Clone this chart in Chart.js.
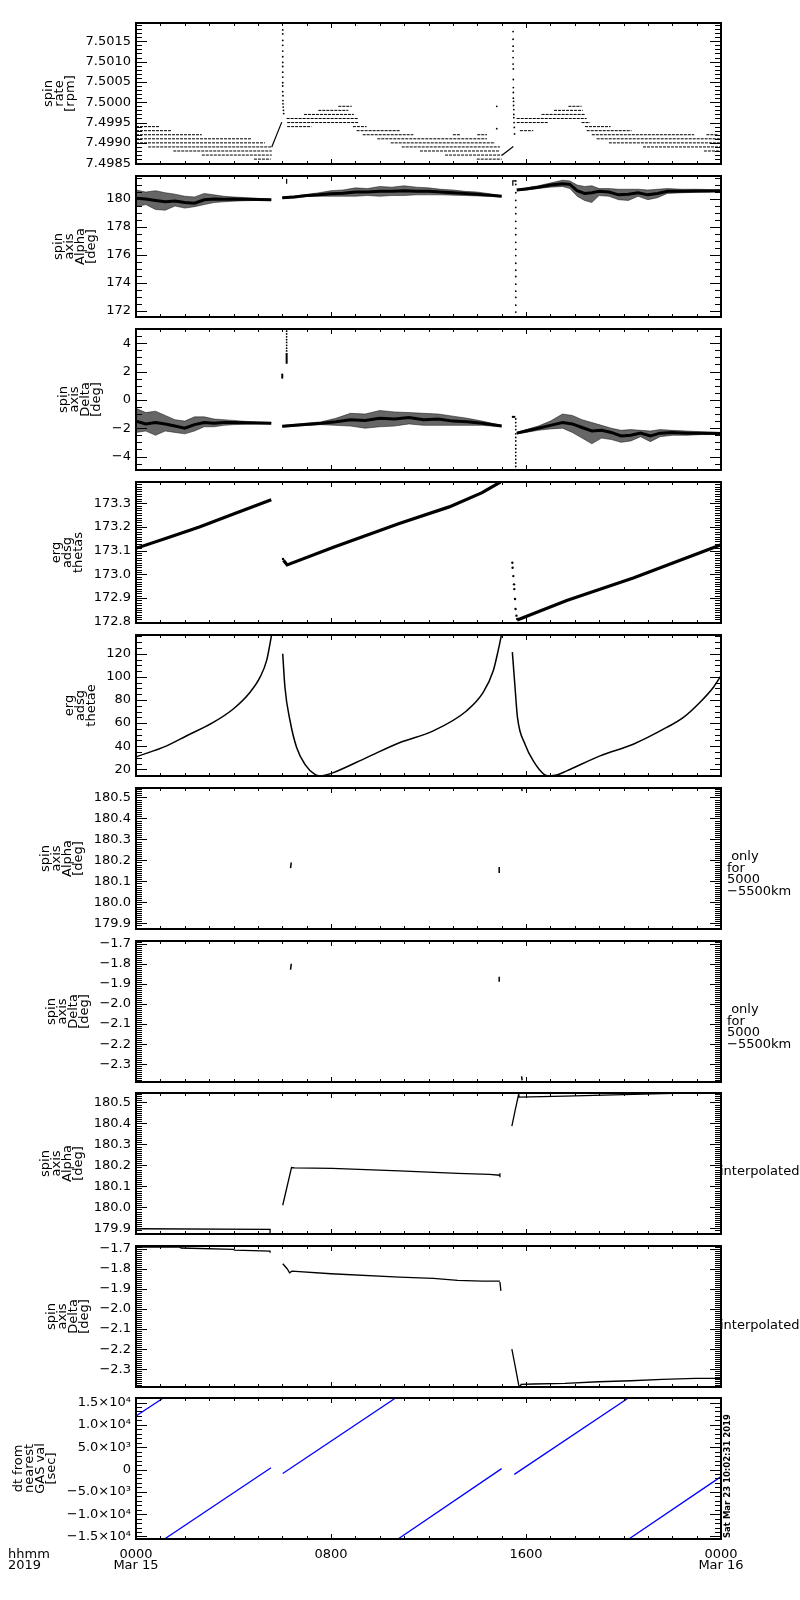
<!DOCTYPE html>
<html>
<head>
<meta charset="utf-8">
<script src="https://cdn.jsdelivr.net/npm/chart.js@4.4.1/dist/chart.umd.min.js"></script>
<style>
  body { margin: 0; background: #fff; }
  #wrap { position: relative; width: 800px; height: 1600px; }
  #wrap canvas { position: absolute; left: 0; }
</style>
</head>
<body>
<div id="wrap"></div>
<script>
// ---- time axis (hours since 0000 Mar 15) ----
const hourTicks = [0, 8, 16, 24];
const hourText = [['0000', 'Mar 15'], '0800', '1600', ['0000', 'Mar 16']];

// ---- panel 1: spin rate [rpm] ----
const rateTicks = [7.4985, 7.4990, 7.4995, 7.5000, 7.5005, 7.5010, 7.5015];
const rateTickText = ['7.4985', '7.4990', '7.4995', '7.5000', '7.5005', '7.5010', '7.5015'];
const rateLevel = [7.4994, 7.4993, 7.4992, 7.4991, 7.4990, 7.4989, 7.4988, 7.4987, 7.4986,
  7.4999, 7.4998, 7.4997, 7.4996, 7.4995, 7.4994, 7.4994, 7.4993, 7.4992, 7.4992, 7.4992,
  7.4991, 7.4990, 7.4989, 7.4988, 7.4987, 7.4986,
  7.4999, 7.4998, 7.4997, 7.4996, 7.4995, 7.4995, 7.4993, 7.4994, 7.4993, 7.4992, 7.4992,
  7.4991, 7.4990, 7.4989, 7.4988];
const rateFrom = [0, 0, 0, 0, 0, 0.5, 1.53, 2.7, 4.84,
  8.3, 7.48, 6.89, 6.18, 6.2, 6.2, 8.9, 9.05, 9.3, 13.0, 14.0,
  9.9, 10.45, 10.9, 11.65, 12.68, 13.98,
  17.74, 17.15, 16.64, 15.62, 15.62, 18.28, 15.75, 18.42, 18.49, 18.7, 23.4,
  18.9, 19.4, 20.8, 23.3];
const rateTo = [0.95, 1.46, 2.7, 4.75, 5.29, 5.57, 5.57, 5.57, 5.53,
  8.85, 8.71, 8.94, 9.12, 9.15, 7.2, 9.46, 10.83, 11.38, 13.3, 14.4,
  14.4, 14.73, 14.93, 14.93, 15.0, 15.0,
  18.28, 18.33, 18.42, 18.49, 16.92, 18.63, 16.3, 19.47, 20.33, 22.9, 23.9,
  24, 24, 24, 24];
const rampTime = [5.57, 5.98, null, 15.0, 15.48];
const rampRate = [7.4989, 7.49951, null, 7.49869, 7.49891];
const rateSpikeTime = [6.02, 6.02, 6.02, 6.02, 6.02, 6.02, 6.02, 6.02, 6.02, 6.02, 6.02, 6.02, 6.02,
  6.03, 6.03, 6.03, 6.04, 6.05, 6.06,
  15.47, 15.47, 15.47, 15.47, 15.47, 15.47, 15.48, 15.48, 15.48, 15.48, 15.48,
  15.49, 15.49, 15.5, 15.5, 15.5, 15.51, 15.52, 15.53, 14.8, 14.8];
const rateSpikeRate = [7.50178, 7.50168, 7.50152, 7.50140, 7.50126, 7.50112, 7.50098, 7.50088,
  7.50074, 7.50062, 7.50048, 7.50040, 7.50026, 7.50016, 7.50004, 7.49996, 7.49988, 7.49980, 7.49972,
  7.50174, 7.50155, 7.50138, 7.50126, 7.50110, 7.50094, 7.50082, 7.50056, 7.50036, 7.50024,
  7.50010, 7.50002, 7.49992, 7.49982, 7.49970, 7.49962, 7.49950, 7.49938, 7.49922, 7.49990, 7.49935];

// ---- panel 2: spin axis alpha [deg] ----
const alphaTicks = [172, 174, 176, 178, 180];
const alphaTickText = ['172', '174', '176', '178', '180'];
const alphaTime = [0, 0.4, 0.8, 1.2, 1.6, 2.0, 2.4, 2.8, 3.2, 3.6, 4.0, 4.5, 5.0, 5.55, null,
  6.0, 6.5, 7.0, 7.5, 8.0, 8.5, 9.0, 9.5, 10.0, 10.5, 11.0, 11.5, 12.0, 12.5, 13.0, 13.5, 14.0, 14.5, 15.0, null,
  15.62, 16.0, 16.5, 17.0, 17.5, 17.8, 18.1, 18.4, 18.7, 19.0, 19.4, 19.8, 20.2, 20.6, 21.0, 21.4, 21.8, 22.4, 23.0, 23.5, 24.0];
const alphaMid = [180.05, 180.0, 179.9, 179.8, 179.85, 179.75, 179.7, 179.95, 180.0, 179.98, 180.0, 179.98, 179.97, 179.94, null,
  180.1, 180.15, 180.25, 180.3, 180.38, 180.42, 180.5, 180.5, 180.55, 180.55, 180.6, 180.55, 180.55, 180.5, 180.45, 180.4, 180.35, 180.28, 180.2, null,
  180.65, 180.72, 180.85, 181.0, 181.1, 181.05, 180.6, 180.4, 180.45, 180.55, 180.5, 180.3, 180.35, 180.45, 180.3, 180.4, 180.55, 180.55, 180.58, 180.58, 180.6];
const alphaHi = [180.65, 180.5, 180.6, 180.45, 180.35, 180.2, 180.15, 180.4, 180.3, 180.2, 180.15, 180.1, 180.05, 179.98, null,
  180.15, 180.22, 180.32, 180.45, 180.6, 180.65, 180.8, 180.75, 180.9, 180.85, 180.95, 180.85, 180.8, 180.7, 180.65, 180.55, 180.5, 180.38, 180.25, null,
  180.7, 180.8, 180.95, 181.15, 181.35, 181.3, 181.0, 180.9, 180.95, 180.75, 180.75, 180.7, 180.7, 180.7, 180.65, 180.7, 180.75, 180.7, 180.7, 180.68, 180.65];
const alphaLo = [179.45, 179.6, 179.25, 179.2, 179.5, 179.35, 179.45, 179.6, 179.75, 179.8, 179.85, 179.88, 179.9, 179.9, null,
  180.05, 180.1, 180.18, 180.2, 180.2, 180.2, 180.2, 180.25, 180.2, 180.25, 180.25, 180.3, 180.3, 180.3, 180.28, 180.25, 180.22, 180.18, 180.15, null,
  180.6, 180.65, 180.75, 180.85, 180.9, 180.75, 180.2, 179.9, 179.75, 180.25, 180.2, 179.95, 179.9, 180.2, 179.95, 180.1, 180.4, 180.45, 180.48, 180.5, 180.55];
const alphaDropTime = [15.58, 15.58, 15.58, 15.58, 15.58, 15.58, 15.58, 15.58, 15.58, 15.58,
  15.58, 15.58, 15.58, 15.58, 15.58, 15.58, 15.58, 15.58, 15.58, 15.58];
const alphaDropVal = [181.3, 181.05, 180.45, 179.9, 179.4, 178.95, 178.4, 177.9, 177.45, 176.9,
  176.4, 175.95, 175.4, 174.9, 174.45, 173.9, 173.4, 172.95, 172.4, 171.9];
const alphaMarkTime = [15.46, 15.46, 15.56, null, 6.18, 6.18];
const alphaMarkVal = [180.95, 181.3, 181.3, null, 181.1, 181.45];

// ---- panel 3: spin axis delta [deg] ----
const deltaTicks = [-4, -2, 0, 2, 4];
const deltaTickText = ['\u22124', '\u22122', '0', '2', '4'];
const deltaTime = [0, 0.4, 0.8, 1.2, 1.6, 2.0, 2.4, 2.8, 3.2, 3.6, 4.0, 4.5, 5.0, 5.55, null,
  6.0, 6.8, 7.6, 8.2, 8.8, 9.4, 10.0, 10.6, 11.2, 11.8, 12.4, 13.0, 13.6, 14.2, 15.0, null,
  15.62, 16.0, 16.5, 17.0, 17.5, 17.9, 18.3, 18.7, 19.1, 19.5, 19.9, 20.3, 20.7, 21.1, 21.5, 22.0, 22.6, 23.2, 24.0];
const deltaMid = [-1.5, -1.7, -1.6, -1.7, -1.85, -2.0, -1.75, -1.6, -1.65, -1.6, -1.6, -1.62, -1.63, -1.65, null,
  -1.87, -1.75, -1.65, -1.55, -1.4, -1.45, -1.3, -1.35, -1.25, -1.4, -1.35, -1.5, -1.55, -1.65, -1.85, null,
  -2.35, -2.2, -2.0, -1.8, -1.6, -1.7, -1.95, -2.2, -2.15, -2.3, -2.55, -2.5, -2.35, -2.55, -2.35, -2.3, -2.35, -2.35, -2.38];
const deltaHi = [-0.6, -0.9, -0.8, -1.1, -1.4, -1.5, -1.2, -1.2, -1.35, -1.4, -1.45, -1.52, -1.56, -1.6, null,
  -1.82, -1.68, -1.55, -1.3, -0.95, -1.0, -0.75, -0.85, -0.9, -0.95, -1.0, -1.15, -1.3, -1.5, -1.8, null,
  -2.3, -2.1, -1.85, -1.5, -1.0, -1.1, -1.4, -1.6, -1.8, -2.0, -2.15, -2.1, -2.15, -2.2, -2.1, -2.15, -2.2, -2.25, -2.3];
const deltaLo = [-2.3, -2.2, -2.5, -2.2, -2.3, -2.4, -2.2, -1.9, -1.9, -1.8, -1.75, -1.72, -1.7, -1.7, null,
  -1.92, -1.82, -1.75, -1.8, -1.85, -2.0, -1.9, -1.85, -1.7, -1.8, -1.8, -1.8, -1.8, -1.8, -1.9, null,
  -2.4, -2.3, -2.15, -2.05, -2.0, -2.3, -2.7, -3.1, -2.7, -2.8, -3.0, -2.9, -2.6, -2.95, -2.6, -2.5, -2.5, -2.45, -2.45];
const deltaDropTime = [6.18, 6.18, 6.18, 6.18, 6.18, 6.18, 6.18, 6.18,
  15.58, 15.58, 15.58, 15.58, 15.58, 15.58, 15.58, 15.58, 15.58, 15.58, 15.58, 15.58, 15.58, 15.58, 15.58];
const deltaDropVal = [4.85, 4.65, 4.45, 4.25, 4.05, 3.85, 3.65, 3.45,
  -1.35, -1.6, -1.85, -2.1, -2.4, -2.65, -2.9, -3.2, -3.45, -3.7, -3.95, -4.2, -4.45, -4.7, -4.92];
const deltaMarkTime = [6.18, 6.18, null, 6.0, 6.0, null, 15.42, 15.56];
const deltaMarkVal = [3.3, 2.55, null, 1.5, 1.85, null, -1.2, -1.2];

// ---- panel 4: erg adsg thetas ----
const thetasTicks = [172.8, 172.9, 173.0, 173.1, 173.2, 173.3];
const thetasTickText = ['172.8', '172.9', '173.0', '173.1', '173.2', '173.3'];
const thetasTime = [0, 1.3, 2.6, 4.0, 5.55, null,
  6.05, 6.2, 8.1, 10.8, 12.85, 14.2, 14.95, null,
  15.64, 17.67, 20.4, 24];
const thetasVal = [173.11, 173.155, 173.2, 173.255, 173.315, null,
  173.06, 173.04, 173.115, 173.215, 173.285, 173.345, 173.39, null,
  172.808, 172.89, 172.985, 173.125];
const thetasDropTime = [6.03, 15.44, 15.45, 15.48, 15.51, 15.52, 15.55, 15.57, 15.61, 15.64];
const thetasDropVal = [173.065, 173.049, 173.028, 172.993, 172.958, 172.938, 172.896, 172.854, 172.826, 172.812];

// ---- panel 5: erg adsg thetae ----
const thetaeTicks = [20, 40, 60, 80, 100, 120];
const thetaeTickText = ['20', '40', '60', '80', '100', '120'];
const thetaeTime = [0, 1.26, 2.08, 3.17, 3.99, 4.68, 5.09, 5.36, 5.57, null,
  6.02, 6.11, 6.32, 6.59, 6.93, 7.34, 7.55, 7.75, 8.1, 9.46, 10.83, 12.2, 13.57, 14.25, 14.66, 14.86, 15.0, null,
  15.44, 15.55, 15.65, 15.96, 16.3, 16.74, 16.94, 17.26, 17.67, 19.04, 20.4, 21.77, 22.46, 23.14, 23.69, 24];
const thetaeVal = [30.7, 40.3, 49.0, 60.6, 72.2, 86.7, 99.7, 114.2, 137, null,
  120, 91, 62, 38.8, 24.3, 15.6, 14.3, 14.8, 17.1, 30.1, 43.2, 53.3, 70.7, 86.7, 105.5, 122.9, 137, null,
  121.4, 91, 64.9, 41.7, 27.2, 15.6, 14.3, 15, 18.6, 31.6, 41.7, 56.2, 64.9, 78, 91, 101];

// ---- panels 6 and 8: alpha, narrow range ----
const alphaFineTicks = [179.9, 180.0, 180.1, 180.2, 180.3, 180.4, 180.5];
const alphaFineText = ['179.9', '180.0', '180.1', '180.2', '180.3', '180.4', '180.5'];
const alphaOnlyTime = [6.37, 6.34, null, 14.9, 14.9, null, 15.82, 15.84];
const alphaOnlyVal = [180.19, 180.163, null, 180.168, 180.14, null, 180.545, 180.53];
const alphaInterpTime = [0, 5.5, 5.5, null, 6.02, 6.38, 6.5, 8.05, 10.8, 13.2, 14.5, 14.93, null,
  14.93, 14.93, null, 15.42, 15.55, 15.7, 15.72, 17.6, 20.8, 22.5];
const alphaInterpVal = [179.898, 179.895, 179.876, null, 180.01, 180.19, 180.188, 180.186, 180.174, 180.162, 180.157, 180.153, null,
  180.143, 180.163, null, 180.387, 180.46, 180.54, 180.525, 180.53, 180.54, 180.545];

// ---- panels 7 and 9: delta, narrow range ----
const deltaFineTicks = [-2.3, -2.2, -2.1, -2.0, -1.9, -1.8, -1.7];
const deltaFineText = ['\u22122.3', '\u22122.2', '\u22122.1', '\u22122.0', '\u22121.9', '\u22121.8', '\u22121.7'];
const deltaOnlyTime = [6.37, 6.34, null, 14.9, 14.9, null, 15.82, 15.84];
const deltaOnlyVal = [-1.80, -1.83, null, -1.865, -1.89, null, -2.36, -2.38];
const deltaInterpTime = [0, 1.8, 1.85, 4.0, 4.05, 5.5, 5.5, null,
  6.02, 6.2, 6.3, 6.4, 8.0, 10.8, 12.2, 13.2, 14.2, 14.93, null,
  14.93, 14.97, null,
  15.42, 15.55, 15.7, 15.75, 15.8, 16.3, 17.6, 18.98, 20.3, 21.6, 22.95, 24];
const deltaInterpVal = [-1.692, -1.693, -1.697, -1.704, -1.708, -1.712, -1.72, null,
  -1.775, -1.80, -1.82, -1.812, -1.825, -1.842, -1.848, -1.858, -1.862, -1.862, null,
  -1.866, -1.91, null,
  -2.20, -2.28, -2.378, -2.388, -2.375, -2.373, -2.37, -2.362, -2.357, -2.35, -2.345, -2.345];

// ---- panel 10: dt from nearest GAS val [sec] ----
const dtTicks = [-15000, -10000, -5000, 0, 5000, 10000, 15000];
const dtTickText = ['\u22121.5\u00d710\u2074', '\u22121.0\u00d710\u2074', '\u22125.0\u00d710\u00b3', '0',
  '5.0\u00d710\u00b3', '1.0\u00d710\u2074', '1.5\u00d710\u2074'];
const dtTime = [0, 1.12, null, 1.17, 5.54, null, 6.02, 10.65, null, 10.75, 15.0, null, 15.52, 20.2, null, 20.22, 24];
const dtVal = [12000, 16020, null, -15570, 380, null, -900, 16020, null, -15570, 200, null, -1100, 16020, null, -15570, -1600];

// ---------------------------------------------------------------
const FONT = 'DejaVu Sans';
Chart.defaults.font.family = FONT;
Chart.defaults.font.size = 13;
Chart.defaults.color = '#000';

// split arrays at null times into segments of {x,y} points
function split(t, ...series) {
  const out = [];
  let cur = null;
  t.forEach((h, i) => {
    if (h === null) { cur = null; return; }
    if (!cur) { cur = series.map(() => []); out.push(cur); }
    series.forEach((s, k) => cur[k].push({ x: h, y: s[i] }));
  });
  return out;
}

function lines(t, v, width, color, extra) {
  return split(t, v).map(([pts]) => Object.assign({
    data: pts, borderColor: color || '#000', borderWidth: width || 1.2,
    pointRadius: 0, fill: false, tension: 0
  }, extra || {}));
}

function dots(t, v, r, style) {
  return [{
    data: t.map((h, i) => ({ x: h, y: v[i] })), showLine: false,
    pointRadius: r || 0.9, pointStyle: style || 'circle',
    pointBackgroundColor: '#000', pointBorderWidth: 0, borderColor: '#000'
  }];
}

function band(t, hi, lo, mid, midWidth) {
  const out = [];
  split(t, hi, lo, mid).forEach(([h, l, m]) => {
    out.push({ data: h, borderColor: 'rgba(0,0,0,0.6)', borderWidth: 0.8, pointRadius: 0,
      backgroundColor: 'rgba(0,0,0,0.6)', fill: '+1', tension: 0 });
    out.push({ data: l, borderColor: 'rgba(0,0,0,0.6)', borderWidth: 0.8, pointRadius: 0, fill: false, tension: 0 });
    out.push({ data: m, borderColor: '#000', borderWidth: midWidth, pointRadius: 0, fill: false, tension: 0 });
  });
  return out;
}

function rateRows() {
  return rateLevel.map((lv, i) => ({
    data: [{ x: rateFrom[i], y: lv }, { x: rateTo[i], y: lv }],
    borderColor: '#000', borderWidth: 1, borderDash: [3, 1], pointRadius: 0, fill: false
  }));
}

// frame, inward ticks on all sides, stacked axis title and side notes, IDL style
const idlFrame = {
  id: 'idlFrame',
  afterDraw(chart, args, o) {
    const { ctx, chartArea: a } = chart;
    const x = chart.scales.x, y = chart.scales.y;
    ctx.save();
    ctx.strokeStyle = '#000';
    ctx.lineWidth = 1;
    ctx.beginPath();
    for (let h = 0; h <= 24; h++) {
      const px = Math.round(x.getPixelForValue(h)) + 0.5;
      const len = h % 8 === 0 ? 5 : 3;
      ctx.moveTo(px, a.bottom); ctx.lineTo(px, a.bottom - len);
      ctx.moveTo(px, a.top); ctx.lineTo(px, a.top + len);
    }
    const k0 = Math.ceil(o.min / o.minor - 1e-6), k1 = Math.floor(o.max / o.minor + 1e-6);
    for (let k = k0; k <= k1; k++) {
      const py = Math.round(y.getPixelForValue(k * o.minor)) + 0.5;
      ctx.moveTo(a.left, py); ctx.lineTo(a.left + 6, py);
      ctx.moveTo(a.right, py); ctx.lineTo(a.right - 6, py);
    }
    o.ticks.forEach(v => {
      const py = Math.round(y.getPixelForValue(v)) + 0.5;
      ctx.moveTo(a.left, py); ctx.lineTo(a.left + 11, py);
      ctx.moveTo(a.right, py); ctx.lineTo(a.right - 11, py);
    });
    ctx.stroke();
    ctx.lineWidth = 2;
    ctx.strokeRect(a.left, a.top, a.width, a.height);

    ctx.fillStyle = '#000';
    ctx.font = '13px ' + FONT;
    const widest = Math.max(...o.text.map(s => ctx.measureText(s).width));
    const last = a.left - 5 - widest - 15;
    const cy = (a.top + a.bottom) / 2;
    ctx.textAlign = 'center';
    ctx.textBaseline = 'middle';
    o.title.forEach((s, i) => {
      ctx.save();
      ctx.translate(last - 11 * (o.title.length - 1 - i), cy);
      ctx.rotate(-Math.PI / 2);
      ctx.fillText(s, 0, 0);
      ctx.restore();
    });
    ctx.textAlign = 'left';
    (o.note || []).forEach((s, i) => ctx.fillText(s, a.right + o.noteGap, a.top + o.noteTop + 11.5 * i));
    if (o.footer) {
      ctx.fillText('hhmm', 8, a.bottom + 16);
      ctx.fillText('2019', 8, a.bottom + 27);
      ctx.save();
      ctx.font = 'bold 8.5px ' + FONT;
      ctx.translate(a.right + 7, a.bottom - 1);
      ctx.rotate(-Math.PI / 2);
      ctx.fillText('Sat Mar 23 10:02:31 2019', 0, 0);
      ctx.restore();
    }
    ctx.restore();
  }
};

const onlyNote = [' only', 'for', '5000', '\u22125500km'];

const panels = [
  { top: 23, min: 7.49848, max: 7.50195, minor: 0.0001, ticks: rateTicks, text: rateTickText,
    title: ['spin', 'rate', '[rpm]'],
    sets: [...rateRows(), ...lines(rampTime, rampRate, 1.2), ...dots(rateSpikeTime, rateSpikeRate, 0.9)] },
  { top: 176, min: 171.55, max: 181.65, minor: 0.5, ticks: alphaTicks, text: alphaTickText,
    title: ['spin', 'axis', 'Alpha', '[deg]'],
    sets: [...band(alphaTime, alphaHi, alphaLo, alphaMid, 3), ...dots(alphaDropTime, alphaDropVal, 0.9),
      ...lines(alphaMarkTime, alphaMarkVal, 1.2)] },
  { top: 329, min: -4.95, max: 5.0, minor: 0.5, ticks: deltaTicks, text: deltaTickText,
    title: ['spin', 'axis', 'Delta', '[deg]'],
    sets: [...band(deltaTime, deltaHi, deltaLo, deltaMid, 3), ...dots(deltaDropTime, deltaDropVal, 0.9),
      ...lines(deltaMarkTime, deltaMarkVal, 2)] },
  { top: 482, min: 172.795, max: 173.39, minor: 0.01, ticks: thetasTicks, text: thetasTickText,
    title: ['erg', 'adsg', 'thetas'],
    sets: [...lines(thetasTime, thetasVal, 3.2), ...dots(thetasDropTime, thetasDropVal, 1.2)] },
  { top: 635, min: 14.2, max: 136.2, minor: 5, ticks: thetaeTicks, text: thetaeTickText,
    title: ['erg', 'adsg', 'thetae'],
    sets: lines(thetaeTime, thetaeVal, 1.5, '#000', { cubicInterpolationMode: 'monotone' }) },
  { top: 788, min: 179.873, max: 180.545, minor: 0.01, ticks: alphaFineTicks, text: alphaFineText,
    title: ['spin', 'axis', 'Alpha', '[deg]'], note: onlyNote, noteTop: 69, noteGap: 6,
    sets: lines(alphaOnlyTime, alphaOnlyVal, 1.5) },
  { top: 941, min: -2.388, max: -1.687, minor: 0.01, ticks: deltaFineTicks, text: deltaFineText,
    title: ['spin', 'axis', 'Delta', '[deg]'], note: onlyNote, noteTop: 69, noteGap: 6,
    sets: lines(deltaOnlyTime, deltaOnlyVal, 1.5) },
  { top: 1093, min: 179.873, max: 180.545, minor: 0.01, ticks: alphaFineTicks, text: alphaFineText,
    title: ['spin', 'axis', 'Alpha', '[deg]'], note: ['interpolated'], noteTop: 79, noteGap: -1,
    sets: lines(alphaInterpTime, alphaInterpVal, 1.3) },
  { top: 1246, min: -2.388, max: -1.687, minor: 0.01, ticks: deltaFineTicks, text: deltaFineText,
    title: ['spin', 'axis', 'Delta', '[deg]'], note: ['interpolated'], noteTop: 80, noteGap: -1,
    sets: lines(deltaInterpTime, deltaInterpVal, 1.3) },
  { top: 1398, min: -15570, max: 16020, minor: 1000, ticks: dtTicks, text: dtTickText,
    title: ['dt from', 'nearest', 'GAS val', '[sec]'], footer: true,
    sets: lines(dtTime, dtVal, 1.3, '#0000ff') }
];

const wrap = document.getElementById('wrap');
const PAD = 12, PLOT_H = 141, FOOT = 52;

panels.forEach((p, idx) => {
  const isLast = idx === panels.length - 1;
  const h = PAD + PLOT_H + (isLast ? FOOT : PAD);
  const canvas = document.createElement('canvas');
  canvas.width = 800; canvas.height = h;
  canvas.style.width = '800px'; canvas.style.height = h + 'px';
  canvas.style.top = (p.top - PAD) + 'px';
  wrap.appendChild(canvas);

  new Chart(canvas, {
    type: 'line',
    data: { datasets: p.sets },
    options: {
      responsive: false,
      animation: false,
      events: [],
      layout: { padding: { left: 0, right: 79, top: PAD, bottom: isLast ? 0 : PAD } },
      plugins: {
        legend: { display: false },
        tooltip: { enabled: false },
        idlFrame: { min: p.min, max: p.max, minor: p.minor, ticks: p.ticks, text: p.text,
          title: p.title, note: p.note, noteTop: p.noteTop, noteGap: p.noteGap, footer: p.footer }
      },
      scales: {
        x: {
          type: 'linear', min: 0, max: 24, display: isLast,
          grid: { display: false, drawTicks: false }, border: { display: false },
          afterBuildTicks: s => { s.ticks = hourTicks.map(v => ({ value: v })); },
          afterFit: s => {
            s.height = isLast ? FOOT : 0;
            s.paddingLeft = 0; s.paddingRight = 0;
          },
          ticks: { autoSkip: false, maxRotation: 0, padding: 10,
            font: { size: 13, lineHeight: 0.85 }, callback: (v, i) => hourText[i] }
        },
        y: {
          type: 'linear', min: p.min, max: p.max,
          grid: { display: false, drawTicks: false }, border: { display: false },
          afterBuildTicks: s => { s.ticks = p.ticks.map(v => ({ value: v })); },
          afterFit: s => { s.width = 136; s.paddingTop = 0; s.paddingBottom = 0; },
          ticks: { autoSkip: false, padding: 5, font: { size: 13 }, callback: (v, i) => p.text[i] }
        }
      }
    },
    plugins: [idlFrame]
  });
});
</script>
</body>
</html>
